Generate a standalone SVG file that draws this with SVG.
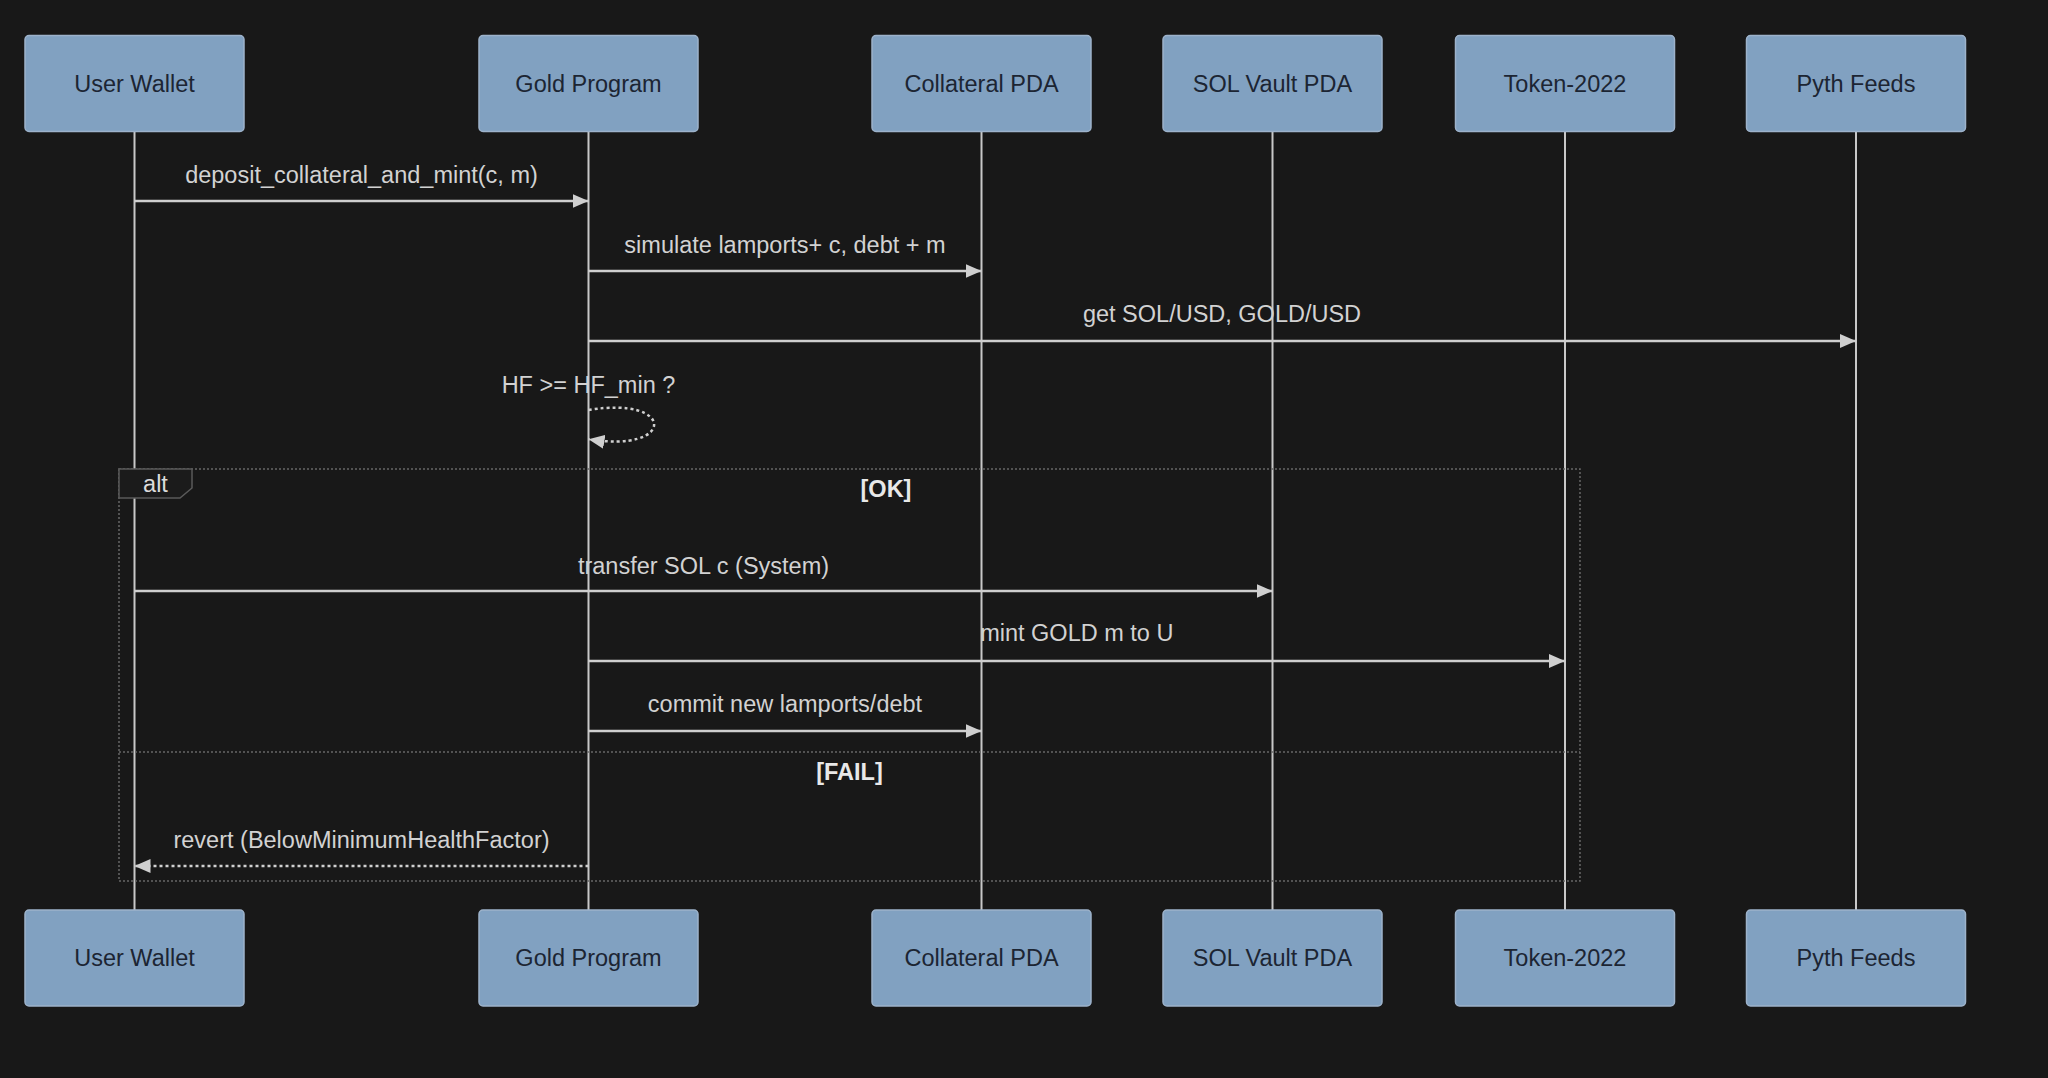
<svg xmlns="http://www.w3.org/2000/svg" width="2048" height="1078" viewBox="0 0 2048 1078">
<defs>
<style>
.bg{fill:#181818}
.actor rect{fill:#81a1c1;stroke:#9db2ca;stroke-width:1.5}
.actor text{font-family:"Liberation Sans",Arial,sans-serif;font-size:23.5px;fill:#1c2533;text-anchor:middle;dominant-baseline:central}
.life{stroke:#c8c8c8;stroke-width:2}
.msg{stroke:#cfcfcf;stroke-width:2.5;fill:none}
.dot{stroke-dasharray:3 3}
.mtext{font-family:"Liberation Sans",Arial,sans-serif;font-size:23.5px;fill:#d2d2d2;text-anchor:middle;dominant-baseline:central}
.frame{stroke:#666;stroke-width:1.5;stroke-dasharray:2 2;fill:none}
.label{fill:#1b1b1b;stroke:#5a5a5a;stroke-width:1.5}
.ltext{font-family:"Liberation Sans",Arial,sans-serif;font-size:23.5px;fill:#dcdcdc;text-anchor:middle;dominant-baseline:central}
.ctext{font-family:"Liberation Sans",Arial,sans-serif;font-size:23.5px;font-weight:bold;fill:#e8e8e8;text-anchor:middle;dominant-baseline:central}
</style>
<marker id="arrow" markerUnits="userSpaceOnUse" markerWidth="16" markerHeight="14" viewBox="0 0 16 14" refX="16" refY="7" orient="auto">
<path d="M0,0 L16,7 L0,14 z" fill="#cfcfcf"/>
</marker>
</defs>
<rect class="bg" x="0" y="0" width="2048" height="1078"/>

<g id="lifelines">
<line class="life" x1="134.5" y1="132" x2="134.5" y2="910"/>
<line class="life" x1="588.5" y1="132" x2="588.5" y2="910"/>
<line class="life" x1="981.5" y1="132" x2="981.5" y2="910"/>
<line class="life" x1="1272.5" y1="132" x2="1272.5" y2="910"/>
<line class="life" x1="1565" y1="132" x2="1565" y2="910"/>
<line class="life" x1="1856" y1="132" x2="1856" y2="910"/>
</g>

<g id="alt-frame">
<rect class="frame" x="119" y="469" width="1461" height="412"/>
<line class="frame" x1="119" y1="752" x2="1580" y2="752"/>
<polygon class="label" points="119,469 192,469 192,488 180,498 119,498"/>
<text class="ltext" x="155.5" y="484">alt</text>
<text class="ctext" x="886" y="489">[OK]</text>
<text class="ctext" x="849.5" y="772">[FAIL]</text>
</g>

<g id="actor-user-top" class="actor"><rect x="25" y="35.5" width="219" height="96" rx="4"/><text x="134.5" y="83.5">User Wallet</text></g>
<g id="actor-gold-top" class="actor"><rect x="479" y="35.5" width="219" height="96" rx="4"/><text x="588.5" y="83.5">Gold Program</text></g>
<g id="actor-collateral-top" class="actor"><rect x="872" y="35.5" width="219" height="96" rx="4"/><text x="981.5" y="83.5">Collateral PDA</text></g>
<g id="actor-vault-top" class="actor"><rect x="1163" y="35.5" width="219" height="96" rx="4"/><text x="1272.5" y="83.5">SOL Vault PDA</text></g>
<g id="actor-token-top" class="actor"><rect x="1455.5" y="35.5" width="219" height="96" rx="4"/><text x="1565" y="83.5">Token-2022</text></g>
<g id="actor-pyth-top" class="actor"><rect x="1746.5" y="35.5" width="219" height="96" rx="4"/><text x="1856" y="83.5">Pyth Feeds</text></g>

<g id="actor-user-bottom" class="actor"><rect x="25" y="910" width="219" height="96" rx="4"/><text x="134.5" y="958">User Wallet</text></g>
<g id="actor-gold-bottom" class="actor"><rect x="479" y="910" width="219" height="96" rx="4"/><text x="588.5" y="958">Gold Program</text></g>
<g id="actor-collateral-bottom" class="actor"><rect x="872" y="910" width="219" height="96" rx="4"/><text x="981.5" y="958">Collateral PDA</text></g>
<g id="actor-vault-bottom" class="actor"><rect x="1163" y="910" width="219" height="96" rx="4"/><text x="1272.5" y="958">SOL Vault PDA</text></g>
<g id="actor-token-bottom" class="actor"><rect x="1455.5" y="910" width="219" height="96" rx="4"/><text x="1565" y="958">Token-2022</text></g>
<g id="actor-pyth-bottom" class="actor"><rect x="1746.5" y="910" width="219" height="96" rx="4"/><text x="1856" y="958">Pyth Feeds</text></g>

<g id="connectors">
<line class="msg" x1="134.5" y1="201" x2="588.5" y2="201" marker-end="url(#arrow)"/>
<text class="mtext" x="361.5" y="175">deposit_collateral_and_mint(c, m)</text>
<line class="msg" x1="588.5" y1="271" x2="981.5" y2="271" marker-end="url(#arrow)"/>
<text class="mtext" x="785" y="245">simulate lamports+ c, debt + m</text>
<line class="msg" x1="588.5" y1="341" x2="1856" y2="341" marker-end="url(#arrow)"/>
<text class="mtext" x="1222" y="314">get SOL/USD, GOLD/USD</text>
<path class="msg dot" d="M588.5,410 C676,395.4 676,453.8 588.5,439.2" marker-end="url(#arrow)"/>
<text class="mtext" x="588.5" y="385">HF &gt;= HF_min ?</text>
<line class="msg" x1="134.5" y1="591" x2="1272.5" y2="591" marker-end="url(#arrow)"/>
<text class="mtext" x="703.5" y="566">transfer SOL c (System)</text>
<line class="msg" x1="588.5" y1="661" x2="1565" y2="661" marker-end="url(#arrow)"/>
<text class="mtext" x="1076.8" y="633">mint GOLD m to U</text>
<line class="msg" x1="588.5" y1="731" x2="981.5" y2="731" marker-end="url(#arrow)"/>
<text class="mtext" x="785" y="704">commit new lamports/debt</text>
<line class="msg dot" x1="588.5" y1="866" x2="134.5" y2="866" marker-end="url(#arrow)"/>
<text class="mtext" x="361.5" y="840">revert (BelowMinimumHealthFactor)</text>
</g>
</svg>
